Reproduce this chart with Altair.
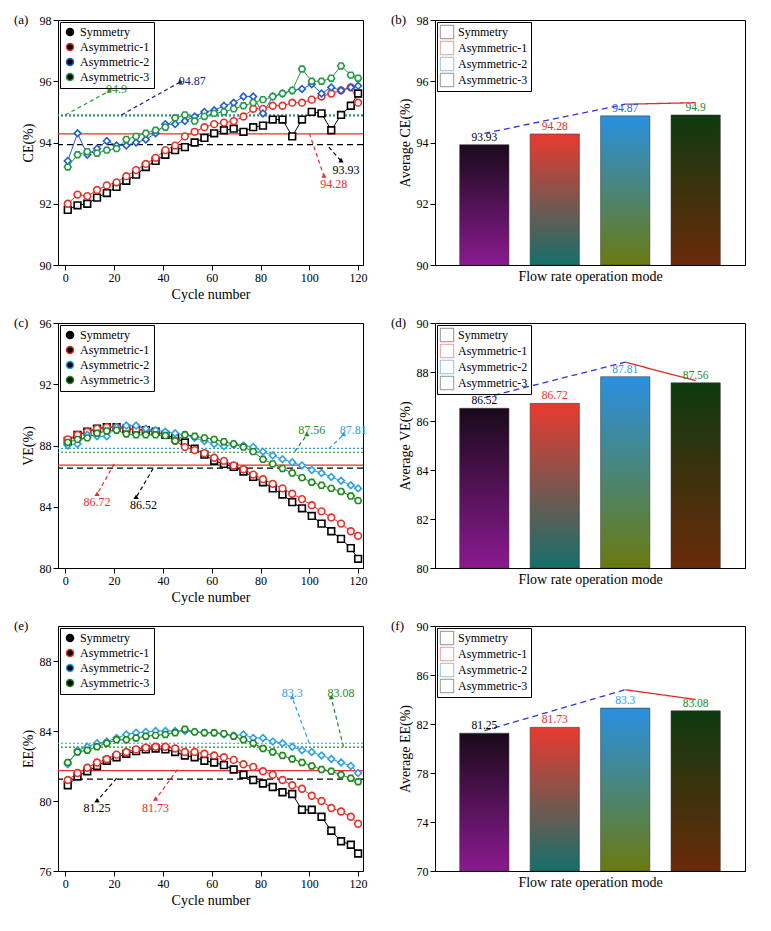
import altair as alt
import pandas as pd

SERIES = ['Symmetry', 'Asymmetric-1', 'Asymmetric-2', 'Asymmetric-3']
COLORS_VE = ['black', '#e8302a', '#2aa0e8', '#1f8a1f']
HEX = "M-1,0L-0.5,-0.866L0.5,-0.866L1,0L0.5,0.866L-0.5,0.866Z"
SHAPES = ['square', 'circle', 'diamond', HEX]

cycles = [1, 5, 9, 13, 17, 21, 25, 29, 33, 37, 41, 45, 49, 53, 57, 61,
          65, 69, 73, 77, 81, 85, 89, 93, 97, 101, 105, 109, 113, 117, 120]

ce_sym = [91.8, 91.95, 92.0, 92.2, 92.35, 92.55, 92.75, 92.95, 93.2, 93.4, 93.6, 93.75, 93.85, 94.0, 94.15, 94.3,
          94.4, 94.45, 94.35, 94.5, 94.55, 94.75, 94.75, 94.2, 94.75, 95.0, 94.95, 94.4, 94.9, 95.2, 95.6]
ce_a1 = [92.0, 92.3, 92.25, 92.45, 92.6, 92.7, 92.9, 93.1, 93.3, 93.5, 93.75, 93.9, 94.2, 94.35, 94.5, 94.6,
         94.65, 94.7, 94.85, 95.1, 95.1, 95.2, 95.2, 95.3, 95.3, 95.4, 95.5, 95.6, 95.7, 95.8, 95.3]
ce_a2 = [93.4, 94.3, 93.6, 93.8, 94.05, 93.9, 93.9, 94.0, 94.1, 94.3, 94.6, 94.6, 94.7, 94.85, 95.0, 95.05,
         95.2, 95.3, 95.5, 95.5, 94.95, 95.5, 95.6, 95.7, 95.75, 95.9, 95.6, 95.8, 95.7, 95.8, 95.85]
ce_a3 = [93.2, 93.6, 93.7, 93.65, 93.75, 93.8, 94.1, 94.2, 94.3, 94.4, 94.5, 94.8, 94.9, 94.7, 94.85, 94.95,
         95.0, 95.1, 95.2, 95.3, 95.4, 95.5, 95.6, 95.7, 96.4, 96.0, 96.0, 96.1, 96.5, 96.2, 96.1]

ve_sym = [88.3, 88.7, 88.9, 89.1, 89.2, 89.2, 89.1, 89.05, 89.0, 88.9, 88.7, 88.5, 88.2, 87.8, 87.4, 87.0,
          86.8, 86.6, 86.3, 85.95, 85.6, 85.2, 84.8, 84.3, 83.9, 83.4, 82.9, 82.4, 81.9, 81.3, 80.6]
ve_a1 = [88.4, 88.7, 88.9, 89.1, 89.2, 89.2, 89.1, 89.05, 89.0, 88.9, 88.7, 88.3, 87.9, 87.7, 87.5, 87.2,
         87.0, 86.7, 86.45, 86.1, 85.8, 85.5, 85.2, 84.85, 84.5, 84.1, 83.7, 83.3, 82.9, 82.4, 82.1]
ve_a2 = [88.0, 88.1, 88.7, 88.6, 88.6, 89.2, 89.3, 89.3, 89.1, 89.0, 88.9, 88.8, 88.7, 88.5, 88.3, 88.1,
         87.95, 88.1, 88.0, 87.9, 87.6, 87.35, 87.1, 86.9, 86.7, 86.4, 86.2, 85.95, 85.7, 85.4, 85.2]
ve_a3 = [88.2, 88.4, 88.5, 88.8, 88.95, 89.0, 88.75, 88.7, 88.7, 88.7, 88.65, 88.3, 88.7, 88.6, 88.5, 88.4,
         88.25, 88.1, 87.9, 87.6, 87.1, 86.8, 86.5, 86.2, 85.9, 85.6, 85.4, 85.2, 85.0, 84.7, 84.4]

ee_sym = [80.9, 81.4, 81.7, 82.0, 82.3, 82.5, 82.7, 82.85, 82.95, 83.0, 82.95, 82.8, 82.6, 82.5, 82.3, 82.2,
          82.05, 81.8, 81.5, 81.2, 81.0, 80.8, 80.5, 80.4, 79.5, 79.5, 79.1, 78.3, 77.7, 77.5, 77.0]
ee_a1 = [81.2, 81.6, 81.9, 82.2, 82.4, 82.65, 82.8, 82.95, 83.05, 83.1, 83.1, 83.0, 82.8, 82.8, 82.7, 82.6,
         82.5, 82.35, 82.1, 81.95, 81.7, 81.5, 81.2, 80.9, 80.7, 80.3, 80.0, 79.6, 79.4, 79.1, 78.7]
ee_a2 = [82.1, 82.9, 83.1, 83.3, 83.4, 83.6, 83.8, 83.9, 83.95, 84.0, 84.0, 84.0, 84.0, 83.95, 83.9, 83.9,
         83.8, 83.75, 83.8, 83.6, 83.6, 83.4, 83.3, 83.1, 82.9, 82.8, 82.6, 82.4, 82.2, 82.0, 81.6]
ee_a3 = [82.2, 82.8, 82.9, 83.1, 83.3, 83.5, 83.5, 83.6, 83.7, 83.75, 83.8, 83.9, 84.1, 83.95, 83.9, 83.9,
         83.85, 83.7, 83.5, 83.3, 83.0, 82.8, 82.6, 82.4, 82.2, 82.0, 81.8, 81.7, 81.5, 81.3, 81.1]

avg_ce = [93.93, 94.28, 94.87, 94.9]
avg_ve = [86.52, 86.72, 87.81, 87.56]
avg_ee = [81.25, 81.73, 83.3, 83.08]

# annotation arrows: start x, start y, end x, end y, label x, label y
notes_ce = [(108, 93.85, 113, 93.4, 115, 93.1), (100, 94.3, 106, 92.9, 110, 92.65),
            (23, 94.9, 47, 95.97, 52, 96.0), (0, 94.9, 18, 95.68, 21, 95.75)]
notes_ve = [(36, 86.5, 29, 84.6, 32, 84.1), (20, 86.8, 13, 84.8, 13, 84.3),
            (108, 87.8, 114, 88.7, 118, 89.0), (94, 87.6, 99, 88.7, 101, 89.0)]
notes_ee = [(21, 81.3, 13, 80.0, 13, 79.6), (46, 81.8, 37, 80.1, 37, 79.6),
            (100, 83.3, 93, 85.9, 93, 86.2), (114, 83.1, 109, 85.9, 113, 86.2)]

# bar gradients (top colour, bottom colour)
GRAD = [('#1a0a1a', '#8a1a90'), ('#e83a30', '#15706a'), ('#2a90e0', '#6a7a10'), ('#0e3a10', '#6a2a0a')]

FONT = 'Liberation Serif'


def tag_layer(tag):
    return alt.Chart(pd.DataFrame({'t': [tag]})).mark_text(
        font=FONT, fontSize=13, align='left', baseline='middle').encode(
        x=alt.value(-44), y=alt.value(0), text='t:N')


def line_panel(ys, avgs, notes, colors, ymin, ymax, step, ytitle, tag, fills, dashes, note_colors):
    rows = []
    for s, vals in zip(SERIES, ys):
        for c, v in zip(cycles, vals):
            rows.append({'series': s, 'cycle': c, 'value': v})
    df = pd.DataFrame(rows)
    xs = alt.Scale(domain=[-3, 122], nice=False, zero=False)
    ysc = alt.Scale(domain=[ymin, ymax], nice=False, zero=False)
    x = alt.X('cycle:Q', title='Cycle number', scale=xs, axis=alt.Axis(values=list(range(0, 121, 20))))
    y = alt.Y('value:Q', title=ytitle, scale=ysc, axis=alt.Axis(values=list(range(ymin, ymax + 1, step))))
    cscale = alt.Scale(domain=SERIES, range=colors)
    col = alt.Color('series:N', scale=cscale, title=None,
                    legend=alt.Legend(orient='top-left', strokeColor='black', padding=4, offset=2,
                                      labelFontSize=12, symbolSize=50, rowPadding=1))
    shp = alt.Shape('series:N', scale=alt.Scale(domain=SERIES, range=SHAPES), title=None)
    base = alt.Chart(df)
    lines = base.mark_line(strokeWidth=1).encode(x=x, y=y, color=alt.Color('series:N', scale=cscale, legend=None))
    pts = base.mark_point(size=45, strokeWidth=1.6, opacity=1).encode(
        x=x, y=y, color=col, shape=shp,
        fill=alt.Fill('series:N', scale=alt.Scale(domain=SERIES, range=fills), legend=None))
    adf = pd.DataFrame({'series': SERIES, 'value': avgs})
    avg = alt.Chart(adf).mark_rule(strokeWidth=1.2).encode(
        y=alt.Y('value:Q', scale=ysc),
        color=alt.Color('series:N', scale=cscale, legend=None),
        strokeDash=alt.StrokeDash('series:N', scale=alt.Scale(domain=SERIES, range=dashes), legend=None))
    ndf = pd.DataFrame([{'x': n[0], 'y': n[1], 'x2': n[2], 'y2': n[3], 'tx': n[4], 'ty': n[5],
                         'text': str(a), 'c': c} for n, a, c in zip(notes, avgs, note_colors)])
    nb = alt.Chart(ndf)
    arrows = nb.mark_rule(strokeDash=[4, 3], strokeWidth=1.2).encode(
        x=alt.X('x:Q', scale=xs), y=alt.Y('y:Q', scale=ysc), x2='x2:Q', y2='y2:Q', color=alt.Color('c:N', scale=None))
    heads = nb.mark_point(shape='triangle', filled=True, size=28, opacity=1).encode(
        x=alt.X('x2:Q', scale=xs), y=alt.Y('y2:Q', scale=ysc), color=alt.Color('c:N', scale=None))
    texts = nb.mark_text(fontSize=12, font=FONT).encode(
        x=alt.X('tx:Q', scale=xs), y=alt.Y('ty:Q', scale=ysc), text='text:N', color=alt.Color('c:N', scale=None))
    return alt.layer(avg, lines, pts, arrows, heads, texts, tag_layer(tag)).resolve_scale(
        color='independent').properties(width=305, height=245)


def bar_panel(avgs, label_colors, ymin, ymax, step, ytitle, tag, conn):
    df = pd.DataFrame({'series': SERIES, 'value': avgs, 'lc': label_colors})
    xsc = alt.Scale(domain=SERIES, paddingInner=0.3, paddingOuter=0.35)
    ysc = alt.Scale(domain=[ymin, ymax], nice=False, zero=False)
    x = alt.X('series:N', title='Flow rate operation mode', scale=xsc,
              axis=alt.Axis(labels=False, ticks=False))
    y = alt.Y('value:Q', title=ytitle, scale=ysc, axis=alt.Axis(values=list(range(ymin, ymax + 1, step))))
    layers = []
    for s, (top, bot) in zip(SERIES, GRAD):
        grad = alt.Gradient(gradient='linear', x1=0, x2=0, y1=0, y2=1,
                            stops=[alt.GradientStop(color=top, offset=0), alt.GradientStop(color=bot, offset=1)])
        layers.append(alt.Chart(df).transform_filter(alt.datum.series == s).mark_bar(
            color=grad, stroke='#333', strokeWidth=0.5, clip=True).encode(
            x=x, y=y, y2=alt.datum(ymin)))
    leg = alt.Chart(df).mark_point(opacity=0).encode(
        x=x, y=y,
        color=alt.Color('series:N', scale=alt.Scale(domain=SERIES, range=['#3a103a', '#d83a30', '#2a80d0', '#0e3a10']),
                        title=None,
                        legend=alt.Legend(orient='top-left', symbolType='square', symbolSize=180, symbolOpacity=1,
                                          symbolStrokeColor='black', symbolStrokeWidth=0.5,
                                          strokeColor='black', padding=3, offset=2,
                                          labelFontSize=12, rowPadding=0)))
    txt = alt.Chart(df).mark_text(dy=-7, fontSize=11.5, font=FONT).encode(
        x=x, y=y, text='value:N', color=alt.Color('lc:N', scale=None))
    cdf = pd.DataFrame([{'series': s, 'value': v, 'g': g} for g, pts in enumerate(conn) for s, v in pts])
    con = alt.Chart(cdf).mark_line(strokeWidth=1.3).encode(
        x=alt.X('series:N', scale=xsc, bandPosition=0.5), y=alt.Y('value:Q', scale=ysc), detail='g:N',
        color=alt.Color('g:N', scale=alt.Scale(domain=[0, 1], range=['#2a3ad0', '#e02a2a']), legend=None),
        strokeDash=alt.StrokeDash('g:N', scale=alt.Scale(domain=[0, 1], range=[[5, 3], [2, 2]]), legend=None))
    return alt.layer(*layers, leg, con, txt, tag_layer(tag)).resolve_scale(
        color='independent').properties(width=310, height=245)


dash4 = [[6, 4], [1, 0], [2, 2], [2, 2]]
dash4b = [[6, 4], [1, 0], [3, 2], [6, 2, 2, 2]]
open_f = ['white'] * 4

a = line_panel([ce_sym, ce_a1, ce_a2, ce_a3], avg_ce, notes_ce, ['black', '#e8302a', '#1f5fd0', '#2a9a4a'],
               90, 98, 1, 'CE(%)', '(a)', open_f, dash4, ['black', '#e8302a', '#1a1a8a', '#2a9a2a'])
c = line_panel([ve_sym, ve_a1, ve_a2, ve_a3], avg_ve, notes_ve, COLORS_VE,
               80, 96, 2, 'VE(%)', '(c)', ['black', 'white', 'white', 'white'], dash4b,
               ['black', '#e8302a', '#2aa0e8', '#1f8a1f'])
e = line_panel([ee_sym, ee_a1, ee_a2, ee_a3], avg_ee, notes_ee, COLORS_VE,
               76, 90, 2, 'EE(%)', '(e)', open_f, dash4b, ['black', '#e8302a', '#2aa0e8', '#1f8a1f'])

b = bar_panel(avg_ce, ['black', '#e8302a', '#1f5fd0', '#1f8a1f'], 90, 98, 1, 'Average CE(%)', '(b)',
              [[('Symmetry', 94.3), ('Asymmetric-2', 95.25)], [('Asymmetric-2', 95.25), ('Asymmetric-3', 95.3)]])
d = bar_panel(avg_ve, ['black', '#e8302a', '#2aa0e8', '#1f8a1f'], 80, 90, 2, 'Average VE(%)', '(d)',
              [[('Symmetry', 86.95), ('Asymmetric-2', 88.4)], [('Asymmetric-2', 88.4), ('Asymmetric-3', 87.65)]])
f = bar_panel(avg_ee, ['black', '#e8302a', '#2aa0e8', '#1f8a1f'], 70, 90, 2, 'Average EE(%)', '(f)',
              [[('Symmetry', 81.45), ('Asymmetric-2', 84.8)], [('Asymmetric-2', 84.8), ('Asymmetric-3', 84.0)]])

chart = alt.vconcat(
    alt.hconcat(a, b, spacing=22),
    alt.hconcat(c, d, spacing=22),
    alt.hconcat(e, f, spacing=22),
    spacing=14,
).configure(font=FONT).configure_view(stroke='black', strokeWidth=1).configure_axis(
    grid=False, domainColor='black', tickColor='black', labelColor='black', titleColor='black',
    labelFontSize=12, titleFontSize=14, titleFontWeight='normal', labelFont=FONT, titleFont=FONT
).configure_legend(labelFont=FONT)

chart.save("out.html", embed_options={"renderer": "svg", "actions": False})
